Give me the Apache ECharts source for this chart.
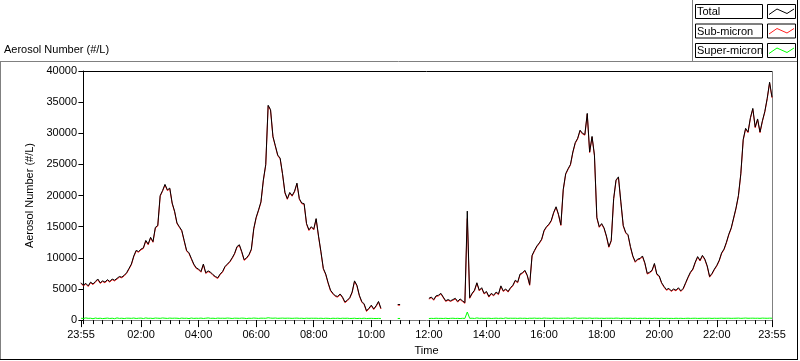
<!DOCTYPE html>
<html><head><meta charset="utf-8">
<script src="https://cdn.jsdelivr.net/npm/echarts@6/dist/echarts.min.js"></script>
<style>html,body{margin:0;padding:0;background:#fff}#c{width:800px;height:361px}</style>
</head><body><div id="c"></div><script>
// sample times: minutes of day, every 5 minutes starting 23:55 (-5)
const startMin = -5, stepMin = 5;
const total = [
6000,5600,5900,5500,6100,5800,6200,6600,6000,6300,
6100,6500,6200,6600,6400,6700,7000,6900,7200,7600,
8300,9000,10300,11200,11000,11400,11600,12800,12200,13300,
12600,14900,15200,20000,20800,21800,20900,21200,18800,17500,
15600,15000,14400,12800,11200,10800,9900,9000,8400,8200,
7800,9000,7600,7900,7700,7300,7000,6800,7400,7800,
8600,9000,9400,10000,10700,11800,12100,11000,9700,10000,
10500,11400,14700,16500,17700,19000,22500,25000,34500,33800,
29500,28000,26500,26000,23500,20500,19500,20500,20000,20700,
22000,19500,18800,18700,15500,14500,15000,14600,16300,13500,
11000,8300,7400,6000,4800,4300,3900,3800,4200,3700,
2900,3200,3600,4500,6300,5600,4000,3000,2600,1500,
1900,2400,1800,2300,3000,1900,null,null,null,null,
null,null,2500,2500,null,null,null,null,null,null,
null,null,null,null,null,3500,3700,3300,3900,4000,
4300,3700,3100,3300,3100,3300,3500,3000,3400,3100,
2800,17500,3600,4300,4800,6000,4800,5200,4300,4600,
3800,4300,4000,4500,4200,5500,4700,5000,4600,5200,
5600,6400,6100,7400,7600,8000,7200,5700,10400,11200,
11900,12400,13000,14400,15000,15400,16000,17300,18200,17000,
15300,21000,23500,24300,25000,27000,28500,29200,30500,30000,
29800,33200,27000,29500,26500,16500,15000,15500,14800,13500,
11800,12800,19500,22500,23000,19000,15200,14100,13700,11800,
10300,9400,9800,9900,10300,9200,7500,7700,8000,9100,
7400,7100,6000,5400,4900,5100,4700,5000,4800,5200,
4700,5100,6000,6900,7700,8200,9300,10200,9600,10400,
9800,8700,7000,7500,8200,8800,9600,10800,11400,12500,
13800,14800,16400,18000,20000,23500,29000,30800,30200,32500,
34000,31000,32300,30200,32000,33500,35600,38200,35800
];
const subMicron = [
5880,5480,5790,5380,5990,5680,6080,6490,5880,6190,
5980,6380,6090,6480,6290,6580,6880,6790,7080,7490,
8180,8880,10190,11080,10890,11280,11490,12680,12090,13180,
12490,14780,15090,19880,20690,21680,20790,21080,18690,17380,
15490,14880,14290,12680,11090,10680,9790,8880,8290,8080,
7690,8880,7490,7780,7590,7180,6890,6680,7290,7680,
8490,8880,9290,9880,10590,11680,11990,10880,9590,9880,
10390,11280,14590,16380,17590,18880,22390,24880,34380,33690,
29390,27880,26390,25880,23390,20380,19390,20380,19890,20580,
21880,19390,18690,18580,15390,14380,14890,14480,16190,13380,
10890,8180,7290,5880,4690,4180,3790,3680,4090,3580,
2790,3080,3490,4380,6190,5480,3890,2880,2490,1380,
1790,2280,1690,2180,2890,1780,null,null,null,null,
null,null,2390,2390,null,null,null,null,null,null,
null,null,null,null,null,3380,3590,3180,3790,3880,
4190,3580,2990,3180,2990,3180,3390,2880,3290,2980,
2690,16300,3490,4180,4690,5880,4690,5080,4190,4480,
3690,4180,3890,4380,4090,5380,4590,4880,4490,5080,
5490,6280,5990,7280,7490,7880,7090,5580,10290,11080,
11790,12280,12890,14280,14890,15280,15890,17180,18090,16880,
15190,20880,23390,24180,24890,26880,28390,29080,30390,29880,
29690,33080,26890,29380,26390,16380,14890,15380,14690,13380,
11690,12680,19390,22380,22890,18880,15090,13980,13590,11680,
10190,9280,9690,9780,10190,9080,7390,7580,7890,8980,
7290,6980,5890,5280,4790,4980,4590,4880,4690,5080,
4590,4980,5890,6780,7590,8080,9190,10080,9490,10280,
9690,8580,6890,7380,8090,8680,9490,10680,11290,12380,
13690,14680,16290,17880,19890,23380,28890,30680,30090,32380,
33890,30880,32190,30080,31890,33380,35490,38080,35690
];
const superMicron = [
300,250,350,280,300,220,330,260,300,240,
280,320,260,300,230,350,270,300,250,310,
300,280,330,260,300,320,250,350,280,300,
260,330,300,280,340,300,270,320,290,310,
300,260,320,280,300,250,330,270,300,280,
320,260,300,350,280,300,260,320,290,300,
280,330,300,260,310,300,280,320,300,250,
300,280,330,300,270,310,300,290,380,320,
300,330,280,300,320,290,310,300,280,300,
320,280,300,260,310,280,300,290,300,270,
300,260,300,280,250,300,270,300,260,300,
280,300,260,270,300,250,280,260,300,250,
270,280,260,250,270,260,null,null,null,null,
null,null,260,260,null,null,null,null,null,null,
null,null,null,null,null,250,280,260,300,270,
280,260,300,250,280,300,260,280,250,290,
260,1300,280,300,260,350,280,300,270,290,
300,260,280,310,270,300,260,350,280,300,
290,300,270,310,280,300,260,300,290,320,
280,300,270,330,300,290,280,320,300,280,
310,290,300,330,280,300,350,280,300,320,
300,290,330,280,300,310,280,300,270,300,
290,300,280,320,300,270,300,290,280,300,
270,300,260,290,280,300,270,290,260,300,
280,270,300,260,290,270,280,260,300,270,
290,260,280,300,270,290,300,270,280,300,
280,290,300,270,300,280,290,310,280,300,
300,280,290,300,320,280,300,330,290,300,
310,290,300,280,320,300,290,310,300
];
const majorTicks = [-5,120,240,360,480,600,720,840,960,1080,1200,1320,1435];
const majorLabels = ['23:55','02:00','04:00','06:00','08:00','10:00','12:00','14:00','16:00','18:00','20:00','22:00','23:55'];
const seriesNames = ['Total','Sub-micron','Super-micron'];
const seriesColors = ['#000000','#ff2020','#00ff00'];

const minorTicks = [];
for (let m = 0; m < 1435; m += 20) minorTicks.push(m);
const toPairs = arr => arr.map((v, i) => [startMin + i * stepMin, v]);

const FONT = 'Liberation Sans, Arial, sans-serif';
const chart = echarts.init(document.getElementById('c'), null, {renderer: 'canvas'});

const L = 81, T = 71, R = 772, B = 321;
const gfx = [];
const line = (x1, y1, x2, y2, c) => gfx.push({type: 'line', shape: {x1, y1, x2, y2}, style: {stroke: c, lineWidth: 1}, silent: true});
// outer frame
line(0, 61.5, 797, 61.5, '#808080');
line(692.5, 0, 692.5, 61, '#808080');
line(0.5, 61, 0.5, 360, '#808080');
line(0, 359.5, 798, 359.5, '#000000');
line(797.5, 0, 797.5, 360, '#000000');
// plot frame (top and right)
line(L, T + 0.5, R, T + 0.5, '#000000');
line(R + 0.5, T, R + 0.5, B + 1, '#808080');
// title
gfx.push({type: 'text', left: 4, top: 44, style: {text: 'Aerosol Number (#/L)', font: '11px ' + FONT, fill: '#000'}});
// legend
seriesNames.forEach((n, k) => {
  const y0 = 4.5 + k * 19.5;
  gfx.push({type: 'rect', shape: {x: 695.5, y: y0, width: 67, height: 14}, style: {fill: '#fff', stroke: '#000', lineWidth: 1}});
  gfx.push({type: 'text', x: 697, y: y0 + 7.5, style: {text: n, font: '11px ' + FONT, fill: '#000', verticalAlign: 'middle'}});
  gfx.push({type: 'rect', shape: {x: 767.5, y: y0, width: 28, height: 14}, style: {fill: '#fff', stroke: '#000', lineWidth: 1}});
  gfx.push({type: 'polyline', shape: {points: [[769, y0 + 10], [777, y0 + 4.5], [787, y0 + 9], [794, y0 + 4.5]]}, style: {stroke: seriesColors[k], lineWidth: 1, fill: null}});
});

chart.setOption({
  animation: false,
  backgroundColor: '#ffffff',
  textStyle: {fontFamily: FONT},
  grid: {left: L, top: T, width: R - L, height: B - T, containLabel: false},
  graphic: gfx,
  xAxis: [{
    type: 'value', min: -5, max: 1435, position: 'bottom',
    name: 'Time', nameLocation: 'middle', nameGap: 24,
    nameTextStyle: {fontSize: 11, color: '#000', fontFamily: FONT},
    axisLine: {show: true, lineStyle: {color: '#808080', width: 1}},
    axisTick: {show: true, length: 7, customValues: majorTicks, lineStyle: {color: '#000'}},
    axisLabel: {show: true, customValues: majorTicks, margin: 9, fontSize: 11, color: '#000', fontFamily: FONT,
      formatter: v => majorLabels[majorTicks.indexOf(v)] || ''},
    splitLine: {show: false}
  }, {
    type: 'value', min: -5, max: 1435, position: 'bottom',
    axisLine: {show: false},
    axisTick: {show: true, length: 4, customValues: minorTicks, lineStyle: {color: '#000'}},
    axisLabel: {show: false},
    splitLine: {show: false}
  }],
  yAxis: {
    type: 'value', min: 0, max: 40000, interval: 5000,
    name: 'Aerosol Number (#/L)', nameLocation: 'middle', nameGap: 45, nameRotate: 90,
    nameTextStyle: {fontSize: 11, color: '#000', fontFamily: FONT},
    axisLine: {show: true, lineStyle: {color: '#000', width: 1}},
    axisTick: {show: true, length: 5, lineStyle: {color: '#000'}},
    axisLabel: {margin: 4, fontSize: 11, color: '#000', fontFamily: FONT, formatter: v => String(v)},
    splitLine: {show: false}
  },
  series: [
    {name: seriesNames[2], type: 'line', data: toPairs(superMicron), showSymbol: false, connectNulls: false,
      lineStyle: {color: seriesColors[2], width: 1}, itemStyle: {color: seriesColors[2]}},
    {name: seriesNames[1], type: 'line', data: toPairs(subMicron), showSymbol: false, connectNulls: false,
      lineStyle: {color: seriesColors[1], width: 1}, itemStyle: {color: seriesColors[1]}},
    {name: seriesNames[0], type: 'line', data: toPairs(total), showSymbol: false, connectNulls: false,
      lineStyle: {color: seriesColors[0], width: 1}, itemStyle: {color: seriesColors[0]}}
  ]
});
</script></body></html>
